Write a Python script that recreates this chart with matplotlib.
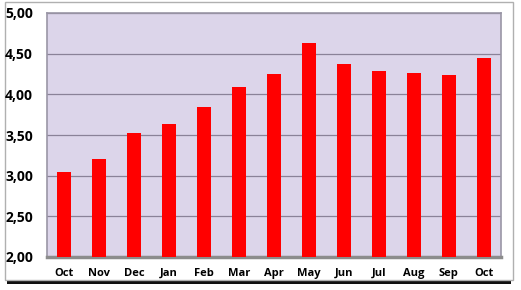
import matplotlib
matplotlib.use('Agg')
import matplotlib.pyplot as plt
from matplotlib.patches import Rectangle
import numpy as np

months = ['Oct', 'Nov', 'Dec', 'Jan', 'Feb', 'Mar', 'Apr',
          'May', 'Jun', 'Jul', 'Aug', 'Sep', 'Oct']
values = [3.05, 3.21, 3.53, 3.63, 3.85, 4.09, 4.25,
          4.63, 4.37, 4.29, 4.26, 4.24, 4.45]
yticks = [2.0, 2.5, 3.0, 3.5, 4.0, 4.5, 5.0]
ylabels = ['2,00', '2,50', '3,00', '3,50', '4,00', '4,50', '5,00']

plt.rcParams['font.family'] = ['Open Sans', 'DejaVu Sans']

W, H = 521, 290
fig = plt.figure(figsize=(W/100, H/100), dpi=100)
fig.patch.set_facecolor('white')

# outer frame: black shadow at the bottom, thin grey border
fig.patches.append(Rectangle((7/W, 1-284/H), 504/W, 10/H, transform=fig.transFigure,
                             facecolor='#111111', edgecolor='none', zorder=-5))
fig.patches.append(Rectangle((5/W, 1-280/H), 508/W, 278/H, transform=fig.transFigure,
                             facecolor='white', edgecolor='#b0b0b0', lw=1, zorder=-4))

ax = fig.add_axes([47/W, 1-257/H, 454/W, 244/H])
ax.set_facecolor('#dcd5ea')

x = np.arange(len(months))
ax.bar(x, values, width=0.4, color='#ff0000', zorder=3)

ax.set_ylim(2, 5)
ax.set_xlim(-0.5, len(months)-0.5)
ax.set_yticks(yticks)
ax.set_yticklabels(ylabels, fontsize=10, fontweight='bold')
ax.set_xticks(x)
ax.set_xticklabels(months, fontsize=8, fontweight='bold')
ax.tick_params(axis='y', length=0, pad=10)
ax.tick_params(axis='x', length=0, pad=8)
ax.yaxis.grid(True, color='#8a8298', lw=0.9, zorder=1)

for s in ['top', 'right', 'left']:
    ax.spines[s].set_color('#9a96a6')
    ax.spines[s].set_linewidth(1.2)
ax.spines['bottom'].set_color('#8c8c8c')
ax.spines['bottom'].set_linewidth(2.5)

fig.savefig('out.png', dpi=100)
